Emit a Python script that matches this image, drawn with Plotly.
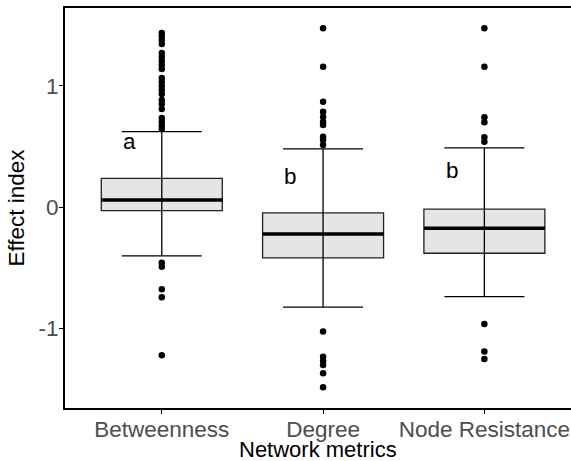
import plotly.graph_objects as go

categories = ["Betweenness", "Degree", "Node Resistance"]
q1 = [-0.028, -0.418, -0.379]
median = [0.060, -0.220, -0.173]
q3 = [0.239, -0.047, -0.016]
lower_whisker = [-0.401, -0.824, -0.737]
upper_whisker = [0.623, 0.481, 0.489]

outliers_betweenness = [1.437, 1.412, 1.379, 1.346, 1.272, 1.239, 1.206, 1.173, 1.140,
                        1.066, 1.033, 1.000, 0.967, 0.934, 0.885, 0.852, 0.810, 0.736,
                        0.703, 0.670, 0.645,
                        -0.457, -0.490, -0.676, -0.742, -1.220]
outliers_degree = [1.476, 1.159, 0.871, 0.788, 0.747, 0.706, 0.678, 0.582, 0.555, 0.514,
                   -1.025, -1.232, -1.265, -1.300, -1.369, -1.484]
outliers_node = [1.476, 1.159, 0.742, 0.701, 0.577, 0.541,
                 -0.962, -1.190, -1.250]
outliers = [outliers_betweenness, outliers_degree, outliers_node]

letters = ["a", "b", "b"]
letter_y = [0.54, 0.25, 0.30]

xs = [1, 2, 3]
yticks = [-1, 0, 1]
font = "Arial, Liberation Sans, sans-serif"
fs = 22.5
xrange = [0.4, 3.537]
yrange = [-1.655, 1.643]

fig = go.Figure()

# whiskers with caps (errorbar style)
fig.add_trace(go.Scatter(
    x=xs, y=median, mode="markers",
    marker=dict(size=0.1, color="rgba(0,0,0,0)"),
    error_y=dict(type="data", symmetric=False,
                 array=[u - m for u, m in zip(upper_whisker, median)],
                 arrayminus=[m - l for m, l in zip(median, lower_whisker)],
                 color="black", thickness=1.3, width=40),
    hoverinfo="skip", showlegend=False))

# boxes
fig.add_trace(go.Box(
    x=xs, q1=q1, median=median, q3=q3,
    lowerfence=q1, upperfence=q3,
    width=0.75, fillcolor="#E5E5E5",
    line=dict(color="#222222", width=1.3),
    boxpoints=False, showlegend=False))

# thick median lines
for x, m in zip(xs, median):
    fig.add_trace(go.Scatter(x=[x - 0.375, x + 0.375], y=[m, m], mode="lines",
                             line=dict(color="black", width=3.5),
                             hoverinfo="skip", showlegend=False))

# outliers
for x, vals in zip(xs, outliers):
    fig.add_trace(go.Scatter(x=[x] * len(vals), y=vals, mode="markers",
                             marker=dict(color="black", size=6.5),
                             showlegend=False))

# invisible helpers so the tick-mark-only axes get drawn
fig.add_trace(go.Scatter(x=xs, y=median, xaxis="x2", yaxis="y", mode="markers",
                         marker=dict(opacity=0), hoverinfo="skip", showlegend=False))
fig.add_trace(go.Scatter(x=xs, y=median, xaxis="x", yaxis="y2", mode="markers",
                         marker=dict(opacity=0), hoverinfo="skip", showlegend=False))

for x, t, y in zip(xs, letters, letter_y):
    fig.add_annotation(x=x - 0.2, y=y, text=t, showarrow=False,
                       font=dict(family=font, size=fs, color="black"))

# x axis title placed at the bottom of the figure, under the tick labels
fig.add_annotation(x=0.5, xref="paper", y=0, yref="paper", yanchor="bottom",
                   yshift=-54.5, text="Network metrics", showarrow=False,
                   xanchor="center", borderpad=0,
                   font=dict(family=font, size=22, color="black"))

fig.update_layout(
    width=571, height=461,
    margin=dict(l=65, r=0, t=8, b=53),
    paper_bgcolor="white", plot_bgcolor="white",
    font=dict(family=font),
    xaxis=dict(range=xrange, tickvals=xs, ticktext=categories,
               showgrid=False, zeroline=False,
               showline=True, mirror=True, linecolor="black", linewidth=2,
               ticks="",
               tickfont=dict(size=fs, color="#4D4D4D", family=font)),
    xaxis2=dict(range=xrange, overlaying="x", matches="x", anchor="y", side="bottom",
                tickvals=xs, showticklabels=False, showgrid=False, zeroline=False,
                showline=False, ticks="outside", ticklen=5, tickcolor="black",
                tickwidth=1),
    yaxis=dict(range=yrange, tickvals=yticks, ticktext=["-1", "0", "1"],
               showgrid=False, zeroline=False,
               showline=True, linecolor="black", linewidth=2,
               ticks="",
               tickfont=dict(size=fs, color="#4D4D4D", family=font),
               title=dict(text="Effect index", standoff=8,
                          font=dict(size=fs, color="black", family=font))),
    yaxis2=dict(range=yrange, overlaying="y", matches="y", anchor="x", side="left",
                tickvals=yticks, showticklabels=False, showgrid=False, zeroline=False,
                showline=False, ticks="outside", ticklen=5, tickcolor="black",
                tickwidth=1),
)

fig.write_html("out.html")
